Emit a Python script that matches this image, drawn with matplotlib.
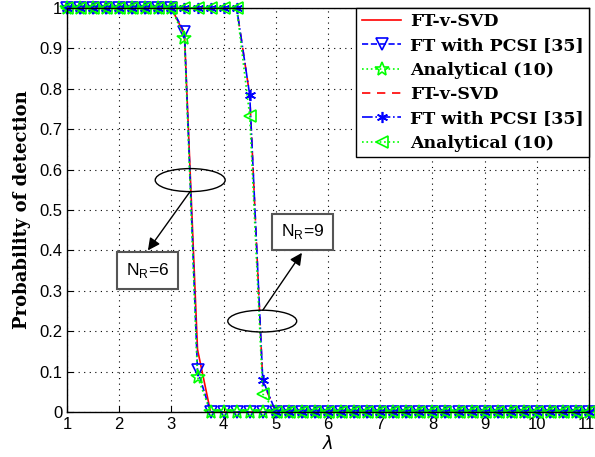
import numpy as np
import matplotlib
matplotlib.use("Agg")
import matplotlib.pyplot as plt
import matplotlib.transforms as mtransforms
from matplotlib.patches import Ellipse

# grid of lambda values (step 0.25)
lam = np.arange(1.0, 11.0 + 1e-9, 0.25)

# N_R = 6 curves
svd6 = [1.0] * 9 + [0.935, 0.155] + [0.0] * 30
pcsi6 = [1.0] * 9 + [0.94, 0.104] + [0.0] * 30
ana6 = [1.0] * 9 + [0.925, 0.087] + [0.0] * 30
# N_R = 9 curves
svd9 = [1.0] * 14 + [0.785, 0.075] + [0.0] * 25
pcsi9 = [1.0] * 14 + [0.785, 0.08] + [0.0] * 25
ana9 = [1.0] * 14 + [0.733, 0.045] + [0.0] * 25

labels = ["FT-v-SVD", "FT with PCSI [35]", "Analytical (10)",
          "FT-v-SVD", "FT with PCSI [35]", "Analytical (10)"]
xticks = list(range(1, 12))
yticks = [0, 0.1, 0.2, 0.3, 0.4, 0.5, 0.6, 0.7, 0.8, 0.9, 1]
ytick_labels = ["0", "0.1", "0.2", "0.3", "0.4", "0.5", "0.6", "0.7", "0.8", "0.9", "1"]

plt.rcParams['font.family'] = ['Liberation Sans', 'DejaVu Sans']
plt.rcParams['mathtext.fontset'] = 'dejavusans'

fig = plt.figure(figsize=(5.95, 4.57), dpi=100)
W, H = 595, 457
ax = fig.add_axes([67 / W, 1 - 412 / H, (589 - 67) / W, (412 - 8) / H])

lw = 1.2
ms = 8
common = dict(lw=lw, clip_on=False)
ax.plot(lam, svd6, color='red', ls='-', label=labels[0], **common)
ax.plot(lam, pcsi6, color='blue', ls='--', marker='v', ms=ms,
        mfc='none', mec='blue', mew=1.2, label=labels[1], **common)
ax.plot(lam, ana6, color='#00ff00', ls=':', marker='*', ms=ms + 2,
        mfc='none', mec='#00ff00', mew=1.2, label=labels[2], **common)
ax.plot(lam, svd9, color='red', ls=(0, (5, 4)), label=labels[3], **common)
ax.plot(lam, pcsi9, color='blue', ls='-.', marker=(6, 2, 0), ms=ms,
        mec='blue', mew=1.2, label=labels[4], **common)
ax.plot(lam, ana9, color='#00ff00', ls=':', marker='<', ms=ms,
        mfc='none', mec='#00ff00', mew=1.2, label=labels[5], **common)

ax.set_xlim(1, 11)
ax.set_ylim(0, 1)
ax.set_xticks(xticks)
ax.set_yticks(yticks)
ax.set_yticklabels(ytick_labels)
ax.tick_params(direction='in', labelsize=12, length=4, top=False, right=False)
ax.grid(True, color='black', ls=(0, (1, 4)), lw=0.8)
for s in ax.spines.values():
    s.set_linewidth(1.0)

# nudge the last x tick label so it stays inside the figure
last = ax.get_xticklabels()[-1]
last.set_transform(last.get_transform() +
                   mtransforms.ScaledTranslation(-3 / 100, 0, fig.dpi_scale_trans))

ax.set_xlabel(r'$\lambda$', fontsize=13, labelpad=2)
ax.set_ylabel('Probability of detection', fontsize=13, fontweight='bold',
              family='DejaVu Serif', labelpad=6)

leg = ax.legend(loc='upper right', borderaxespad=0, fancybox=False,
                edgecolor='black', framealpha=1, handlelength=2.3,
                handletextpad=0.5, labelspacing=0.42, borderpad=0.3,
                prop={'family': 'DejaVu Serif', 'weight': 'bold', 'size': 12.5})
leg.get_frame().set_linewidth(1.0)
leg.set_zorder(10)

# annotations
e1 = Ellipse((3.36, 0.574), 1.34, 0.057, fill=False, ec='black', lw=1.0, zorder=5)
e2 = Ellipse((4.74, 0.225), 1.32, 0.054, fill=False, ec='black', lw=1.0, zorder=5)
ax.add_patch(e1)
ax.add_patch(e2)

ax.annotate('', xy=(2.55, 0.40), xytext=(3.36, 0.546),
            arrowprops=dict(arrowstyle='-|>', color='black', lw=1.0,
                            mutation_scale=18, shrinkA=0, shrinkB=0), zorder=6)
ax.annotate('', xy=(5.50, 0.394), xytext=(4.75, 0.252),
            arrowprops=dict(arrowstyle='-|>', color='black', lw=1.0,
                            mutation_scale=18, shrinkA=0, shrinkB=0), zorder=6)

bbox = dict(boxstyle='square,pad=0.5', fc='white', ec='#555555', lw=1.5)
ax.text(2.54, 0.35, r'N$_\mathregular{R}$=6', fontsize=12.5, ha='center', va='center',
        bbox=bbox, zorder=7)
ax.text(5.51, 0.446, r'N$_\mathregular{R}$=9', fontsize=12.5, ha='center', va='center',
        bbox=bbox, zorder=7)

fig.savefig('out.png', dpi=100)
